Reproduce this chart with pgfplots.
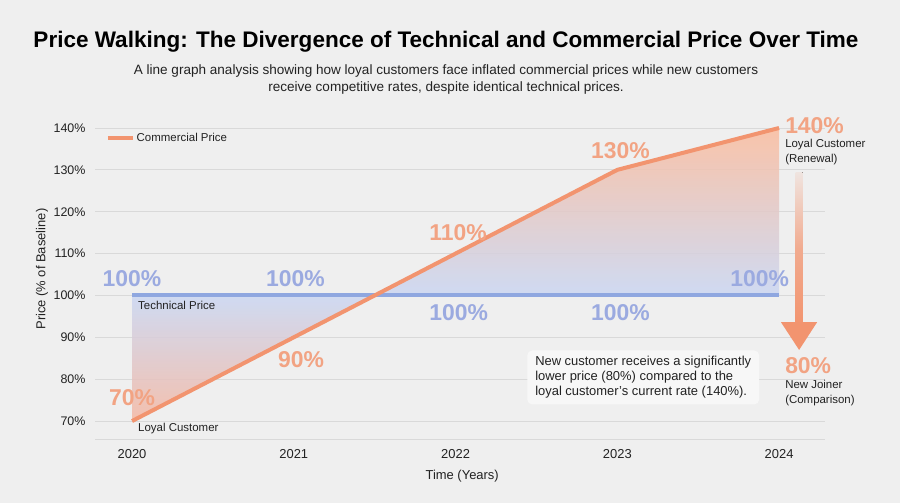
\documentclass[border=0pt]{standalone}
\usepackage{pgfplots}
\pgfplotsset{compat=1.18}
\usepackage{fontspec}
\setmainfont{Liberation Sans}

\definecolor{bg}{HTML}{EFEFEF}
\definecolor{gridc}{HTML}{D9D9D9}
\definecolor{comm}{HTML}{F2946F}
\definecolor{commlab}{HTML}{F2A383}
\definecolor{tech}{HTML}{8FA7E0}
\definecolor{techlab}{HTML}{9BAAE0}
\definecolor{ink}{HTML}{222222}
\definecolor{shadeTop}{RGB}{251,188,158}
\definecolor{shadeMid}{RGB}{202,215,243}
\definecolor{shadeBot}{RGB}{245,184,163}
\definecolor{boxc}{HTML}{F7F7F7}

% vertical gradient for the gap between the two prices:
% orange far from the 100% baseline, blue at the baseline (y range 70..140)
\pgfdeclareverticalshading{gapshade}{100bp}{%
  color(0bp)=(shadeBot); color(25bp)=(shadeBot);
  color(46.43bp)=(shadeMid);
  color(75bp)=(shadeTop); color(100bp)=(shadeTop)}

\begin{document}
\begin{tikzpicture}
\fill[bg] (0,0) rectangle (900bp,503bp);

\begin{axis}[
  at={(95bp,64bp)}, anchor=south west,
  scale only axis, width=730bp, height=315.2bp,
  xmin=2019.771, xmax=2024.284, ymin=65.71, ymax=141,
  clip=false,
  axis lines*=left,
  x axis line style={draw=gridc, line width=1bp},
  y axis line style={draw=none},
  major tick length=0pt,
  tick style={draw=none},
  xtick={2020,2021,2022,2023,2024},
  xticklabels={2020,2021,2022,2023,2024},
  ytick={70,80,...,140},
  yticklabel={\pgfmathprintnumber{\tick}\%},
  ymajorgrids, grid style={draw=gridc, line width=0.8bp},
  tick label style={font=\fontsize{12.5}{14}\selectfont, text=ink},
  yticklabel style={xshift=-6bp},
  xticklabel style={yshift=-7bp, font=\fontsize{13}{15}\selectfont},
  /pgf/number format/assume math mode=true,
  xlabel={Time (Years)}, ylabel={Price (\% of Baseline)},
  label style={font=\fontsize{13}{15}\selectfont, text=ink},
  xlabel style={at={(axis description cs:0.503,-0.117)}, anchor=center},
  ylabel style={at={(axis description cs:-0.0726,0.539)}, anchor=center},
  legend style={at={(axis description cs:0.0151,0.955)}, anchor=west,
    draw=none, fill=none, inner sep=0pt,
    font=\fontsize{11.5}{13}\selectfont, text=ink},
  legend image code/.code={\draw[#1, line width=3.5bp] (0bp,0bp) -- (25bp,0bp);},
]

% shaded gap between commercial price (out along the top) and
% technical price (back along 100%); the two lobes meet at the crossover
\addplot[shade, shading=gapshade, fill opacity=0.85, draw=none, forget plot]
  coordinates {(2020,70) (2021,90) (2022,110) (2023,130) (2024,140)
               (2024,100) (2023,100) (2022,100) (2021,100) (2020,100)} -- cycle;

% technical price (flat baseline)
\addplot[tech, line width=4bp, forget plot]
  coordinates {(2020,100) (2021,100) (2022,100) (2023,100) (2024,100)};
% commercial price charged to a loyal customer
\addplot[comm, line width=4bp, line join=round]
  coordinates {(2020,70) (2021,90) (2022,110) (2023,130) (2024,140)};
\addlegendentry{Commercial Price}

% value labels
\begin{scope}[every node/.style={font=\bfseries\fontsize{23}{26}\selectfont}]
\node[text=techlab] at (axis cs:2020,104.05) {100\%};
\node[text=techlab] at (axis cs:2021.01,104.05) {100\%};
\node[text=techlab] at (axis cs:2022.02,95.95) {100\%};
\node[text=techlab] at (axis cs:2023.02,95.95) {100\%};
\node[text=techlab] at (axis cs:2023.88,104.05) {100\%};
\node[text=commlab] at (axis cs:2020,75.7) {70\%};
\node[text=commlab] at (axis cs:2021.045,84.76) {90\%};
\node[text=commlab] at (axis cs:2022.015,115.0) {110\%};
\node[text=commlab] at (axis cs:2023.02,134.5) {130\%};
\node[text=commlab, anchor=west, inner xsep=0pt] at (axis cs:2024.037,140.5) {140\%};
\node[text=commlab, anchor=west, inner xsep=0pt] at (axis cs:2024.037,83.33) {80\%};
\end{scope}

% series and point notes
\begin{scope}[every node/.style={font=\fontsize{11.5}{15}\selectfont, text=ink, inner sep=0pt}]
\node[anchor=west] at (axis cs:2020.037,97.6) {Technical Price};
\node[anchor=west] at (axis cs:2020.037,68.1) {Loyal Customer};
\node[anchor=north west, align=left] at (axis cs:2024.037,137.4) {Loyal Customer\\(Renewal)};
\node[anchor=north west, align=left] at (axis cs:2024.037,79.76) {New Joiner\\(Comparison)};
\end{scope}

% renewal-to-new-joiner arrow
\fill[top color=comm!12!bg, bottom color=comm, middle color=comm!75!bg]
  (axis cs:2024.1024,129.4) rectangle (axis cs:2024.1456,93.0);
\fill[comm] (axis cs:2024.012,93.6) -- (axis cs:2024.235,93.6) -- (axis cs:2024.124,86.98) -- cycle;

% explanatory note
\node[anchor=north west, fill=boxc, rounded corners=5bp, inner xsep=8bp, inner ysep=6bp,
  align=left, font=\fontsize{13}{15}\selectfont, text=ink]
  at (axis cs:2022.442,86.9)
  {New customer receives a significantly\\lower price (80\%) compared to the\\loyal customer's current rate (140\%).};
\end{axis}

% heading
\node[font=\bfseries\fontsize{22.6}{25}\selectfont, text=black] at (446bp,461bp)
  {Price Walking: The Divergence of Technical and Commercial Price Over Time};
\node[align=center, font=\fontsize{13.6}{17}\selectfont, text=ink] at (446bp,423.5bp)
  {A line graph analysis showing how loyal customers face inflated commercial prices while new customers\\
   receive competitive rates, despite identical technical prices.};

\pgfresetboundingbox
\path[use as bounding box] (0,0) rectangle (900bp,503bp);
\end{tikzpicture}
\end{document}
